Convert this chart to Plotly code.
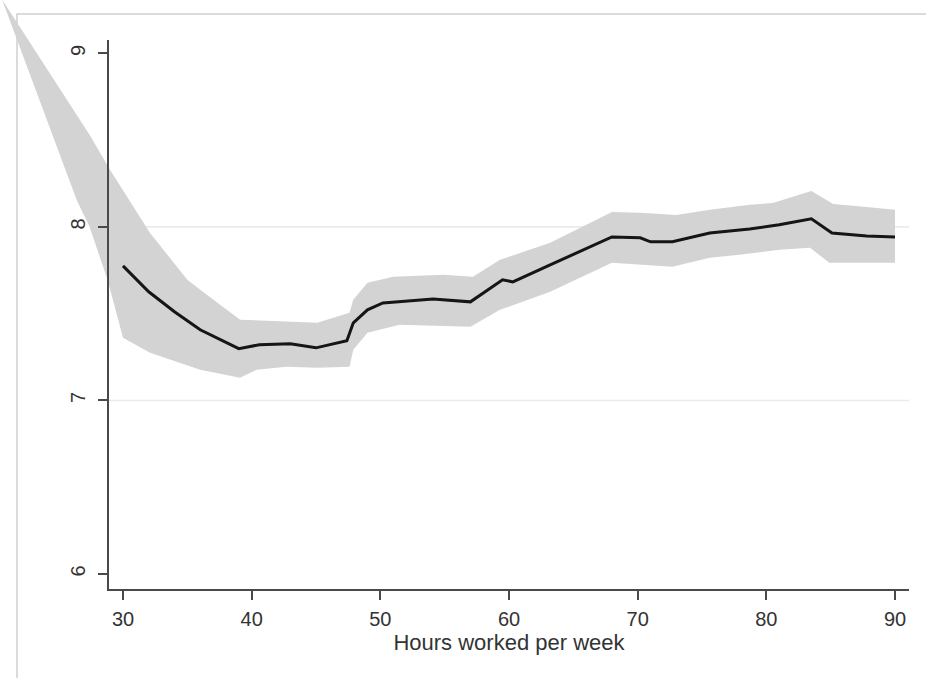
import plotly.graph_objects as go

# Local mean of life satisfaction by weekly working hours
hours_mean = [30, 32, 34, 36, 39, 40.6, 43, 45, 47.4, 47.9, 49, 50.2, 54.1, 57,
              59.5, 60.3, 63.2, 68, 70.2, 71, 72.7, 75.6, 78.7, 81, 83.5, 85.1,
              87.8, 90]
satisfaction = [7.775, 7.626, 7.511, 7.407, 7.298, 7.321, 7.326, 7.303, 7.344,
                7.447, 7.522, 7.562, 7.585, 7.568, 7.695, 7.683, 7.781, 7.942,
                7.937, 7.914, 7.914, 7.965, 7.988, 8.012, 8.046, 7.965, 7.948,
                7.942]

# Upper and lower bounds of the confidence band
ci_hi_hours = [20.6, 27.4, 29.0, 32.1, 35.0, 36.0, 39.1, 45.1, 47.6, 47.9, 49.0,
               51.0, 54.9, 57.2, 59.3, 63.2, 68.0, 70.2, 73.0, 75.6, 78.7, 80.5,
               83.5, 85.2, 87.8, 90.0]
ci_hi = [9.31, 8.53, 8.328, 7.965, 7.695, 7.637, 7.465, 7.447, 7.505, 7.58,
         7.678, 7.712, 7.724, 7.712, 7.81, 7.908, 8.086, 8.081, 8.069, 8.098,
         8.127, 8.138, 8.207, 8.132, 8.115, 8.098]
ci_lo_hours = [20.6, 26.4, 27.4, 28.8, 30.0, 32.1, 36.0, 39.1, 40.4, 42.7, 45.1,
               47.6, 47.9, 49.0, 51.5, 57.0, 59.3, 63.2, 68.0, 70.7, 72.7, 75.6,
               77.9, 81.0, 83.4, 84.9, 90.0]
ci_lo = [9.31, 8.155, 8.0, 7.695, 7.361, 7.275, 7.177, 7.131, 7.177, 7.194,
         7.188, 7.194, 7.292, 7.39, 7.436, 7.424, 7.522, 7.626, 7.793, 7.781,
         7.77, 7.822, 7.839, 7.868, 7.879, 7.793, 7.793]

x_ticks = [30, 40, 50, 60, 70, 80, 90]
y_ticks = [6, 7, 8, 9]
grid_vals = [7, 8]
x_title = "Hours worked per week"

W, H = 926, 678
# Inner plot region (pixels) and its data ranges
px_left, px_right, px_top, px_bottom = 109, 909, 40, 589
x_range = [28.912, 91.088]
y_range = [5.9136, 9.0766]

x_dom = [px_left / W, px_right / W]
y_dom = [(H - px_bottom) / H, (H - px_top) / H]


def full_range(rng, dom):
    # extend a range so that the same scale covers the whole figure
    k = (rng[1] - rng[0]) / (dom[1] - dom[0])
    return [rng[0] - dom[0] * k, rng[1] + (1 - dom[1]) * k]


family = "Liberation Sans, Arial, sans-serif"
font = dict(family=family, size=20, color="#333333")
title_font = dict(family=family, size=22, color="#333333")
axis_color = "#4a4a4a"

fig = go.Figure()

# Confidence band on a full-figure axis pair so it is not clipped at the frame
fig.add_trace(go.Scatter(
    x=ci_hi_hours + ci_lo_hours[::-1],
    y=ci_hi + ci_lo[::-1],
    fill="toself", fillcolor="#d3d3d3",
    mode="lines", line=dict(width=0),
    hoverinfo="skip", showlegend=False,
    xaxis="x", yaxis="y",
))

# Mean line on the visible axes
fig.add_trace(go.Scatter(
    x=hours_mean, y=satisfaction, mode="lines",
    line=dict(color="#151515", width=3),
    showlegend=False, xaxis="x2", yaxis="y2",
))

# Gridlines at 7 and 8, under the band
shapes = []
for g in grid_vals:
    shapes.append(dict(type="line", xref="x2 domain", yref="y2",
                       x0=0, x1=1, y0=g, y1=g, layer="below",
                       line=dict(color="#ebebeb", width=1.6)))
# Outer graph-region frame
shapes.append(dict(type="rect", xref="paper", yref="paper",
                   x0=17 / W, x1=1.05, y0=-0.05, y1=(H - 14) / H,
                   layer="below", line=dict(color="#cfcfcf", width=1.5),
                   fillcolor="rgba(0,0,0,0)"))

fig.update_layout(
    width=W, height=H, autosize=False,
    margin=dict(l=0, r=0, t=0, b=0),
    paper_bgcolor="white", plot_bgcolor="rgba(0,0,0,0)",
    font=font, showlegend=False,
    shapes=shapes,
    xaxis=dict(domain=[0, 1], range=full_range(x_range, x_dom), visible=False,
               fixedrange=True),
    yaxis=dict(domain=[0, 1], range=full_range(y_range, y_dom), visible=False,
               fixedrange=True),
    xaxis2=dict(domain=x_dom, range=x_range, anchor="y2",
                showgrid=False, zeroline=False,
                showline=True, linecolor=axis_color, linewidth=1.6,
                ticks="outside", ticklen=9, tickwidth=1.5, tickcolor=axis_color,
                tickvals=x_ticks, ticktext=[str(v) for v in x_ticks],
                tickfont=font, ticklabelstandoff=2,
                title=dict(text=x_title, standoff=0, font=title_font)),
    yaxis2=dict(domain=y_dom, range=y_range, anchor="x2",
                showgrid=False, zeroline=False,
                showline=True, linecolor=axis_color, linewidth=1.6,
                ticks="outside", ticklen=9, tickwidth=1.5, tickcolor=axis_color,
                tickvals=y_ticks, ticktext=[str(v) for v in y_ticks],
                tickfont=font, tickangle=-90, ticklabelstandoff=5),
)

fig.write_html("out.html")
